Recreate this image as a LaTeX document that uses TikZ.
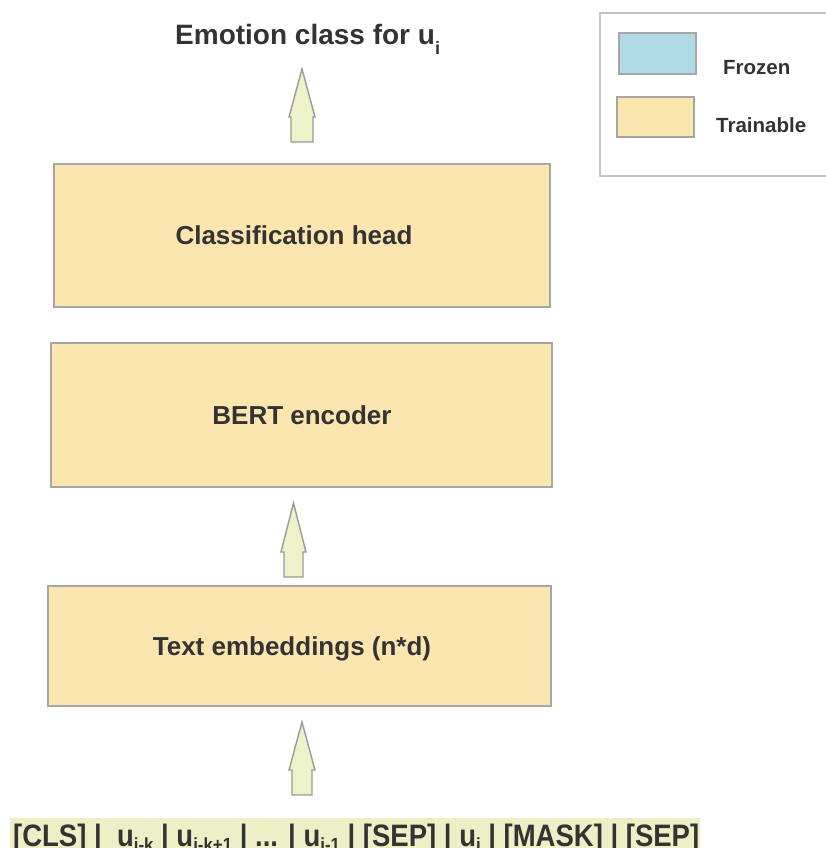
\documentclass[tikz,border=0pt]{standalone}
\usepackage{fontspec}
\usepackage{graphicx}
\setmainfont{Liberation Sans}
\definecolor{txt}{HTML}{333333}
\definecolor{boxfill}{HTML}{FCE6AF}
\definecolor{boxline}{HTML}{A6A6A6}
\definecolor{frozenfill}{HTML}{AFD9E5}
\definecolor{arrowfill}{HTML}{EEF2C8}
\definecolor{arrowline}{HTML}{9A9A9A}
\definecolor{bandfill}{HTML}{EDF0C6}
\definecolor{legendline}{HTML}{C4C4C4}
% subscript: text, size (pt), drop (pt)
\newcommand\lowsub[3]{\raisebox{-#3pt}{\fontsize{#2}{#2}\selectfont #1}}
% block arrow: centre x, tip y, head-base y, bottom y, head half-width, shaft half-width
\newcommand\blockarrow[6]{%
  \draw[blockarr] (#1,#2) -- (#1+#5,#3) -- (#1+#6,#3) -- (#1+#6,#4)
    -- (#1-#6,#4) -- (#1-#6,#3) -- (#1-#5,#3) -- cycle;}
\begin{document}
\begin{tikzpicture}[x=1pt,y=-1pt,
  layer/.style={draw=boxline, fill=boxfill, line width=1.5pt},
  swatch/.style={draw=boxline, line width=1.5pt},
  blockarr/.style={draw=arrowline, fill=arrowfill, line width=1.4pt, line join=miter},
  boxtext/.style={text=txt, font=\fontsize{26}{31}\selectfont\bfseries, inner sep=0pt, anchor=base},
  legtext/.style={text=txt, font=\fontsize{20.5}{24}\selectfont\bfseries, inner sep=0pt, anchor=base west}]
\useasboundingbox (0,0) rectangle (826,848);
\fill[white] (0,0) rectangle (826,848);

% legend
\draw[legendline, line width=1.6pt] (830,13) -- (600,13) -- (600,176) -- (830,176);
\draw[swatch, fill=frozenfill] (619,33) rectangle (696,74);
\draw[swatch, fill=boxfill] (617,97) rectangle (694,137);
\node[legtext] (lfrozen) at (723,75) {Frozen};
\node[legtext] (ltrain) at (716,132) {Trainable};

% stacked layers
\draw[layer] (54,164) rectangle (550,307);
\draw[layer] (51,343) rectangle (552,487);
\draw[layer] (48,586) rectangle (551,706);
\node[boxtext] (head) at (294,244) {Classification head};
\node[boxtext] (bert) at (302,424) {BERT encoder};
\node[boxtext] (emb) at (292,655) {Text embeddings (n*d)};

% output label
\node[text=txt, font=\fontsize{28}{33}\selectfont\bfseries, inner sep=0pt, anchor=base west]
  (out) at (175,45) {Emotion class for u\lowsub{i}{18}{10}};

% flow arrows
\blockarrow{302}{69}{117}{142}{13}{11}
\blockarrow{293.5}{503}{552}{577}{12.5}{9.5}
\blockarrow{302}{722}{770}{795}{13}{10}

% input sequence
\fill[bandfill] (10,818) rectangle (700,850);
\node[text=txt, font=\fontsize{31}{36}\selectfont\bfseries, inner sep=0pt, anchor=base west]
  (seq) at (13,846) {\resizebox{686pt}{\height}{[CLS] |\ \ u\lowsub{i-k}{19}{5} | u\lowsub{i-k+1}{19}{5} | ... | u\lowsub{i-1}{19}{5} | [SEP] | u\lowsub{i}{19}{5} | [MASK] | [SEP]}};
\end{tikzpicture}
\end{document}
